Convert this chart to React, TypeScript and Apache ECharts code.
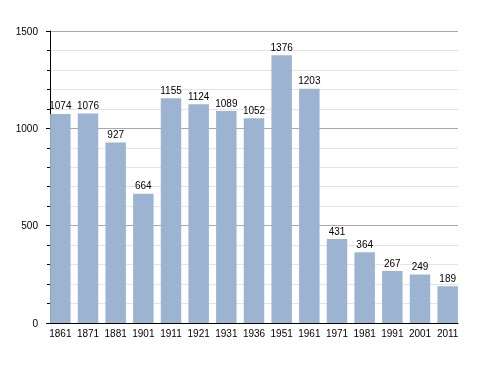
import React, { useEffect, useRef } from "react";
import * as echarts from "echarts";

const years = ["1861", "1871", "1881", "1901", "1911", "1921", "1931", "1936", "1951", "1961", "1971", "1981", "1991", "2001", "2011"];
const population = [1074, 1076, 927, 664, 1155, 1124, 1089, 1052, 1376, 1203, 431, 364, 267, 249, 189];

export default function App() {
  const ref = useRef<HTMLDivElement>(null);
  useEffect(() => {
    if (!ref.current) return;
    const chart = echarts.init(ref.current, null, { renderer: "svg" });
    const font = "'Liberation Sans', Arial, sans-serif";
    chart.setOption({
      animation: false,
      grid: [
        { left: 50, right: 30, top: 31, bottom: 50 },
        { left: 46.5, right: 26.5, top: 31, bottom: 50 },
      ],
      xAxis: [
        {
          gridIndex: 0,
          type: "category",
          data: years,
          axisLine: { lineStyle: { color: "#000", width: 1 } },
          axisTick: { show: false },
          axisLabel: { show: false },
        },
        {
          gridIndex: 1,
          type: "category",
          data: years,
          axisLine: { show: false },
          axisTick: { show: false },
          axisLabel: { color: "#000", fontFamily: font, fontSize: 10, margin: 5, interval: 0 },
        },
      ],
      yAxis: [
        {
          gridIndex: 0,
          type: "value",
          min: 0,
          max: 1500,
          interval: 500,
          axisLine: { show: true, lineStyle: { color: "#000", width: 1 } },
          axisTick: { show: true, inside: false, length: 4, lineStyle: { color: "#000" } },
          minorTick: { show: true, splitNumber: 5, length: 3, lineStyle: { color: "#000" } },
          axisLabel: { color: "#000", fontFamily: font, fontSize: 10, margin: 12, formatter: (v: number) => String(v) },
          splitLine: { show: true, lineStyle: { color: "#a8a8a8", width: 1 } },
          minorSplitLine: { show: true, lineStyle: { color: "#e4e4e4", width: 1 } },
        },
        {
          gridIndex: 1,
          type: "value",
          min: 0,
          max: 1500,
          interval: 500,
          show: false,
        },
      ],
      series: [
        {
          type: "bar",
          xAxisIndex: 1,
          yAxisIndex: 1,
          data: population,
          barCategoryGap: "26%",
          itemStyle: { color: "#9cb4d1" },
          label: {
            show: true,
            position: "top",
            distance: 3,
            color: "#000",
            fontFamily: font,
            fontSize: 10,
          },
        },
      ],
    });
    return () => chart.dispose();
  }, []);
  return <div ref={ref} style={{ position: "fixed", left: 0, top: 0, width: 488, height: 373 }} />;
}
